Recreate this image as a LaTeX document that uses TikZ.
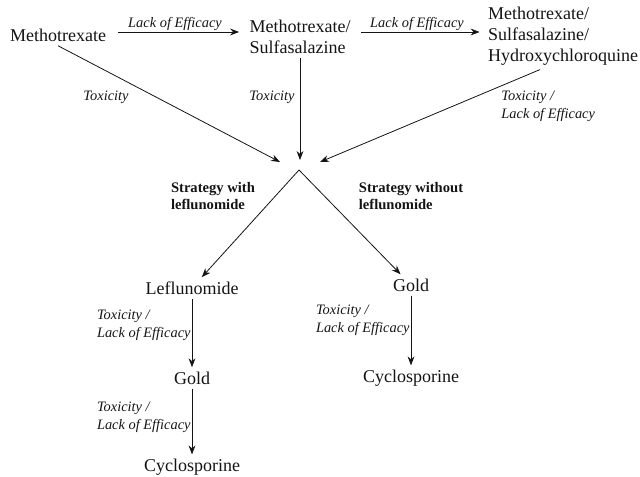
\documentclass[tikz,border=0pt]{standalone}
\usepackage{fontspec}
\setmainfont{Liberation Serif}
\usetikzlibrary{arrows.meta, positioning, calc}
\definecolor{inkblack}{HTML}{141414}
\tikzstyle{drug} = [inner sep=2pt, text=inkblack, font=\fontsize{9}{10.5}\selectfont, align=left]
\tikzstyle{reason} = [inner sep=1pt, text=inkblack, font=\fontsize{7.2}{9}\selectfont\itshape, align=left]
\tikzstyle{strategy} = [inner sep=1pt, text=inkblack, font=\fontsize{7.3}{8.6}\selectfont\bfseries, align=left]
\tikzstyle{arrow} = [line width=0.4pt, ->, >={Stealth[length=4.5pt, width=3.4pt]}, color=inkblack]

\begin{document}
\begin{tikzpicture}[x=0.5pt, y=-0.5pt]
    \useasboundingbox (0,0) rectangle (640,476);

    % Top row
    \node[drug] (mtx) at (58,35) {Methotrexate};
    \node[drug] (ms) at (300,37) {Methotrexate/\\Sulfasalazine};
    \node[drug] (mshq) at (563,36) {Methotrexate/\\Sulfasalazine/\\Hydroxychloroquine};

    % Meeting point
    \coordinate (hubL) at (280,162);
    \coordinate (hubC) at (300,160);
    \coordinate (hubR) at (320,162);
    \coordinate (hubO) at (299,170);

    % Strategy labels
    \node[strategy] (withlef) at (213,196) {Strategy with\\leflunomide};
    \node[strategy] (withoutlef) at (411,196) {Strategy without\\leflunomide};

    % Left branch
    \node[drug] (lef) at (192,288) {Leflunomide};
    \node[drug] (gold1) at (192,378) {Gold};
    \node[drug] (cyc1) at (192,467) {Cyclosporine};

    % Right branch
    \node[drug] (gold2) at (411,285) {Gold};
    \node[drug] (cyc2) at (411,378) {Cyclosporine};

    % Reasons
    \node[reason] (eff1) at (175,24) {Lack of Efficacy};
    \node[reason] (eff2) at (417,24) {Lack of Efficacy};
    \node[reason] (tox1) at (106,97) {Toxicity};
    \node[reason] (tox2) at (272,97) {Toxicity};
    \node[reason, anchor=west] (tox3) at (499,106) {Toxicity /\\Lack of Efficacy};
    \node[reason, anchor=east] (tox4) at (193,325) {Toxicity /\\Lack of Efficacy};
    \node[reason, anchor=east] (tox5) at (193,417) {Toxicity /\\Lack of Efficacy};
    \node[reason, anchor=east] (tox6) at (412,320) {Toxicity /\\Lack of Efficacy};

    % Arrows
    \draw[arrow, shorten <=4pt, shorten >=3pt] ([yshift=1.5pt]mtx.east) -- ([yshift=1.5pt]mtx.east -| ms.west);
    \draw[arrow, shorten <=3pt, shorten >=2pt] ([yshift=1.5pt]mtx.east -| ms.east) -- ([yshift=1.5pt]mtx.east -| mshq.west);
    \draw[arrow] (mtx.south) -- (hubL);
    \draw[arrow] (ms.south) -- (ms.south |- hubC);
    \draw[arrow] ($(mshq.south)+(-23,0)$) -- (hubR);
    \draw[arrow] (hubO) -- (lef);
    \draw[arrow] (hubO) -- (gold2);
    \draw[arrow] (lef) -- (gold1);
    \draw[arrow] (gold1) -- (cyc1);
    \draw[arrow] (gold2) -- (cyc2);
\end{tikzpicture}
\end{document}
